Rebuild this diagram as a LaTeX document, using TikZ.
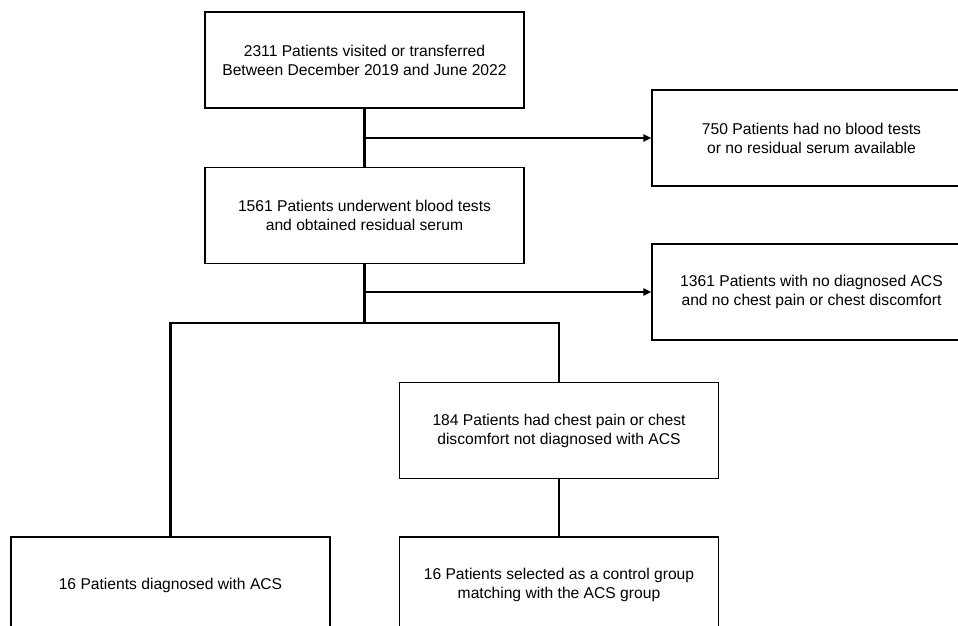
\documentclass[tikz,border=0pt]{standalone}
\usepackage{fontspec}
\setmainfont{Liberation Sans}
\usetikzlibrary{arrows.meta}

\begin{document}
\begin{tikzpicture}[x=0.02cm,y=-0.02cm,
    box/.style={draw, line width=0.85pt, minimum width=6.38cm, minimum height=1.92cm,
        align=center, font=\fontsize{8.9}{10.8}\selectfont},
    link/.style={line width=1.15pt},
    flow/.style={link, -{Triangle[length=4.5pt,width=4pt]}}]
    \useasboundingbox (0,0) rectangle (958,626);
    \clip (0,0) rectangle (958,626);

    \node[box] (visited) at (364.5,60) {2311 Patients visited or transferred\\Between December 2019 and June 2022};
    \node[box] (serum) at (364.5,215.5) {1561 Patients underwent blood tests\\and obtained residual serum};
    \node[box] (noblood) at (811.5,138) {750 Patients had no blood tests\\or no residual serum available};
    \node[box] (noacs) at (811.5,292) {1361 Patients with no diagnosed ACS\\and no chest pain or chest discomfort};
    \node[box] (chest) at (559,430.5) {184 Patients had chest pain or chest\\discomfort not diagnosed with ACS};
    \node[box] (acs) at (170.5,585) {16 Patients diagnosed with ACS};
    \node[box] (control) at (559,585) {16 Patients selected as a control group\\matching with the ACS group};
    \coordinate (split) at (364.5,323);

    \draw[link] (visited.south) -- (serum.north);
    \draw[flow] (visited.south |- noblood.west) -- (noblood.west);
    \draw[link] (serum.south) -- (split);
    \draw[flow] (serum.south |- noacs.west) -- (noacs.west);
    \draw[link] (acs.north) |- (split) -| (chest.north);
    \draw[link] (chest.south) -- (control.north);
\end{tikzpicture}
\end{document}
